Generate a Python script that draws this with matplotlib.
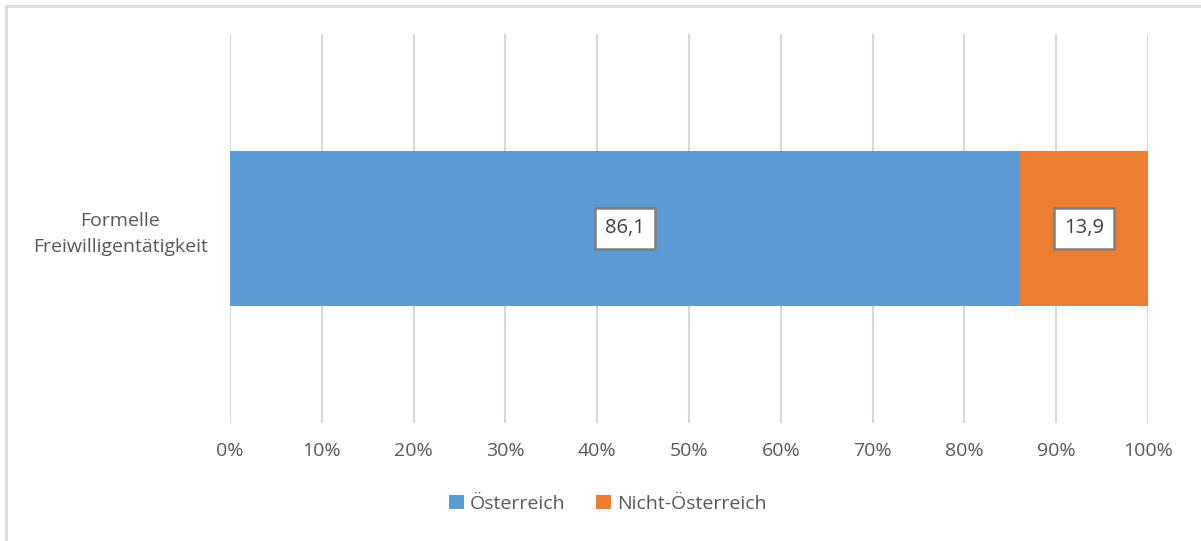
import matplotlib
matplotlib.use("Agg")
import matplotlib.pyplot as plt
from matplotlib.lines import Line2D

categories = ["Formelle\nFreiwilligentätigkeit"]
series_names = ["Österreich", "Nicht-Österreich"]
values_oesterreich = [86.1]
values_nicht = [13.9]
colors = ["#5B9BD5", "#ED7D31"]
xticks = [0, 10, 20, 30, 40, 50, 60, 70, 80, 90, 100]

plt.rcParams['font.family'] = ['Open Sans', 'DejaVu Sans']
text_color = "#595959"
fs = 14

fig = plt.figure(figsize=(12.01, 5.41), dpi=100)
ax = fig.add_axes([230/1201, 1-423/541, 918/1201, 389/541])

ypos = list(range(len(categories)))
series = [values_oesterreich, values_nicht]
left = [0.0]*len(categories)
for name, vals, col in zip(series_names, series, colors):
    bars = ax.barh(ypos, vals, left=left, height=0.4, color=col, label=name, zorder=3)
    for b, v in zip(bars, vals):
        ax.text(b.get_x()+b.get_width()/2, b.get_y()+b.get_height()/2,
                f"{v:.1f}".replace('.', ','), ha='center', va='center',
                fontsize=14.5, color="#404040", zorder=5,
                bbox=dict(boxstyle='square,pad=0.5', fc='white', ec='#7f7f7f', lw=1.8))
    left = [l+v for l, v in zip(left, vals)]

ax.set_xlim(0, 100)
ax.set_ylim(-0.5, 0.5)
ax.set_xticks(xticks)
ax.set_xticklabels([f"{t}%" for t in xticks])
ax.set_yticks(ypos)
ax.set_yticklabels(categories)
for lab in ax.get_yticklabels():
    lab.set_multialignment('center')
    lab.set_linespacing(1.55)
ax.tick_params(axis='x', length=0, pad=14, labelsize=fs, labelcolor=text_color)
ax.tick_params(axis='y', length=0, pad=16, labelsize=fs, labelcolor=text_color)
ax.grid(axis='x', color='#d9d9d9', lw=1.5, zorder=0)
for s in ax.spines.values():
    s.set_visible(False)

fig.legend(loc='center', bbox_to_anchor=(0.506, 1-504/541), ncol=2, frameon=False,
           fontsize=fs, labelcolor=text_color, handlelength=0.75, handleheight=0.75,
           handletextpad=0.3, columnspacing=1.6)

fig.add_artist(Line2D([6/1201, 1], [1-6/541, 1-6/541], color='#d9d9d9', lw=2, transform=fig.transFigure))
fig.add_artist(Line2D([6/1201, 6/1201], [0, 1-6/541], color='#d9d9d9', lw=2, transform=fig.transFigure))

fig.savefig("out.png", dpi=100)
